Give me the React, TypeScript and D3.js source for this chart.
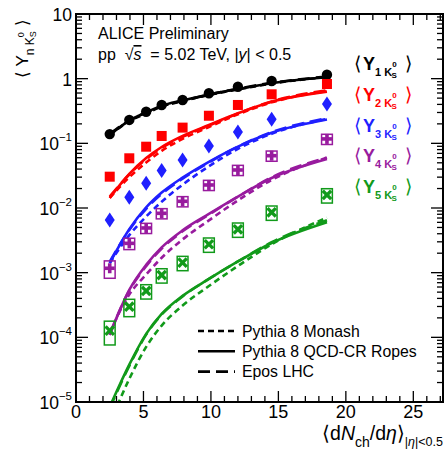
import React from "react";
import * as d3 from "d3";

// <dN_ch/deta> of the multiplicity classes
const multiplicity = [2.5, 3.95, 5.2, 6.35, 7.9, 9.85, 12.0, 14.5, 18.6];

// measured <Y_nK0S>
const dataY1 = [0.139, 0.23, 0.308, 0.392, 0.468, 0.594, 0.751, 0.92, 1.15];
const dataY2 = [0.0305, 0.0587, 0.0887, 0.13, 0.175, 0.267, 0.392, 0.573, 0.827];
const dataY3 = [0.00653, 0.0147, 0.0241, 0.038, 0.0552, 0.091, 0.15, 0.236, 0.406];
const dataY4 = [0.00117, 0.00284, 0.00491, 0.00828, 0.0127, 0.0227, 0.0387, 0.0644, 0.117];
const dataY5 = [0.000127, 0.000298, 0.000521, 0.00092, 0.00143, 0.00275, 0.00469, 0.00859, 0.0159];

// relative systematic uncertainties (boxes)
const sysY4 = [0.3, 0.2, 0.18, 0.18, 0.18, 0.18, 0.18, 0.18, 0.18];
const sysY5 = [0.4, 0.3, 0.25, 0.25, 0.25, 0.25, 0.25, 0.25, 0.25];

// Pythia 8 QCD-CR Ropes
const ropesY1 = [0.135, 0.225, 0.3, 0.38, 0.46, 0.57, 0.69, 0.85, 1.05];
const ropesY2 = [0.0143, 0.0336, 0.0593, 0.0877, 0.13, 0.192, 0.291, 0.44, 0.63];
const ropesY3 = [0.00141, 0.00469, 0.0102, 0.0173, 0.0295, 0.0518, 0.0891, 0.1455, 0.233];
const ropesY4 = [0.000109, 0.000541, 0.00132, 0.00246, 0.00451, 0.00809, 0.015, 0.0291, 0.0574];
const ropesY5 = [0.0000084, 0.0000378, 0.000113, 0.00023, 0.000438, 0.0008, 0.00149, 0.00288, 0.00603];

// Pythia 8 Monash
const monashY1 = [0.135, 0.22, 0.29, 0.37, 0.45, 0.56, 0.68, 0.84, 1.06];
const monashY2 = [0.0143, 0.0299, 0.0505, 0.0764, 0.117, 0.179, 0.281, 0.43, 0.644];
const monashY3 = [0.00141, 0.00381, 0.00738, 0.0125, 0.0229, 0.0441, 0.0822, 0.1406, 0.239];
const monashY4 = [0.000119, 0.00046, 0.000935, 0.0017, 0.00327, 0.00643, 0.0131, 0.0272, 0.0601];
const monashY5 = [0.0000046, 0.0000228, 0.0000711, 0.000152, 0.00031, 0.000622, 0.00127, 0.00275, 0.00708];

// Epos LHC
const eposY1 = [0.14, 0.225, 0.3, 0.375, 0.455, 0.565, 0.7, 0.86, 1.08];
const eposY2 = [0.015, 0.033, 0.057, 0.085, 0.126, 0.188, 0.29, 0.445, 0.66];
const eposY3 = [0.00148, 0.00458, 0.00973, 0.0165, 0.0285, 0.0506, 0.0891, 0.149, 0.244];
const eposY4 = [0.000114, 0.000528, 0.00126, 0.00235, 0.00436, 0.00791, 0.015, 0.0298, 0.0601];
const eposY5 = [0.000008, 0.0000361, 0.00011, 0.000225, 0.000428, 0.0008, 0.00149, 0.00295, 0.00646];

const xTicks = [0, 5, 10, 15, 20, 25];
const yTickExp = [1, 0, -1, -2, -3, -4, -5];
const legendModels = ["Pythia 8 Monash", "Pythia 8 QCD-CR Ropes", "Epos LHC"];

const W = 445;
const H = 459;
const left = 76, right = 443, top = 14, bottom = 402;
const font = "'Liberation Sans', Arial, Helvetica, sans-serif";

const series = [
  { n: 1, color: "#000000", marker: "circle", data: dataY1, sys: null, ropes: ropesY1, monash: monashY1, epos: eposY1 },
  { n: 2, color: "#ff0000", marker: "square", data: dataY2, sys: null, ropes: ropesY2, monash: monashY2, epos: eposY2 },
  { n: 3, color: "#1f1fff", marker: "diamond", data: dataY3, sys: null, ropes: ropesY3, monash: monashY3, epos: eposY3 },
  { n: 4, color: "#981b9e", marker: "plus", data: dataY4, sys: sysY4, ropes: ropesY4, monash: monashY4, epos: eposY4 },
  { n: 5, color: "#119a1a", marker: "cross", data: dataY5, sys: sysY5, ropes: ropesY5, monash: monashY5, epos: eposY5 },
];

const styles = [
  { key: "monash", dash: "6,4" },
  { key: "ropes", dash: null },
  { key: "epos", dash: "12,6" },
];

function Marker({ type, x, y, color }: { type: string; x: number; y: number; color: string }) {
  if (type === "circle") return <circle cx={x} cy={y} r={5.2} fill={color} />;
  if (type === "square") return <rect x={x - 5} y={y - 5} width={10} height={10} fill={color} />;
  if (type === "diamond")
    return <path d={`M${x},${y - 7.5}L${x + 5},${y}L${x},${y + 7.5}L${x - 5},${y}Z`} fill={color} />;
  if (type === "plus")
    return (
      <g fill={color}>
        <rect x={x - 5} y={y - 1.8} width={10} height={3.6} />
        <rect x={x - 1.8} y={y - 5} width={3.6} height={10} />
      </g>
    );
  return (
    <g stroke={color} strokeWidth={3.3} strokeLinecap="butt">
      <line x1={x - 4.2} y1={y - 4.2} x2={x + 4.2} y2={y + 4.2} />
      <line x1={x - 4.2} y1={y + 4.2} x2={x + 4.2} y2={y - 4.2} />
    </g>
  );
}

export default function App() {
  const x = d3.scaleLinear().domain([0, 27.2]).range([left, right]);
  const y = d3.scaleLog().domain([1e-5, 10]).range([bottom, top]);

  const line = d3
    .line<number>()
    .x((_, i) => x(multiplicity[i]))
    .y((d) => y(d))
    .curve(d3.curveMonotoneX);

  const xMinor = d3.range(0, 28, 1);
  const yMinor: number[] = [];
  for (let e = -5; e < 1; e++) for (let m = 2; m <= 9; m++) yMinor.push(m * Math.pow(10, e));

  return (
    <svg width={W} height={H} style={{ position: "absolute", left: 0, top: 0, background: "#fff" }} fontFamily={font}>
      <defs>
        <clipPath id="frame">
          <rect x={left} y={top} width={right - left} height={bottom - top} />
        </clipPath>
      </defs>

      {/* model curves */}
      <g clipPath="url(#frame)" fill="none" strokeWidth={2.6}>
        {series.map((s) =>
          styles.map((st) => (
            <path
              key={s.n + st.key}
              d={line((s as any)[st.key]) || ""}
              stroke={s.color}
              strokeDasharray={st.dash || undefined}
            />
          ))
        )}
      </g>

      {/* data points */}
      {series.map((s) => (
        <g key={"d" + s.n}>
          {s.data.map((v, i) => {
            const cx = x(multiplicity[i]);
            const cy = y(v);
            return (
              <g key={i}>
                {s.sys && (
                  <rect
                    x={x(multiplicity[i] - 0.4)}
                    y={y(v * (1 + s.sys[i]))}
                    width={x(multiplicity[i] + 0.4) - x(multiplicity[i] - 0.4)}
                    height={y(v * (1 - s.sys[i])) - y(v * (1 + s.sys[i]))}
                    fill="none"
                    stroke={s.color}
                    strokeWidth={1.5}
                  />
                )}
                <Marker type={s.marker} x={cx} y={cy} color={s.color} />
              </g>
            );
          })}
        </g>
      ))}

      {/* frame and ticks */}
      <rect x={left} y={top} width={right - left} height={bottom - top} fill="none" stroke="#000" strokeWidth={2} />
      <g stroke="#000" strokeWidth={1.3}>
        {xMinor.map((t) => {
          const len = t % 5 === 0 ? 11 : 6;
          return (
            <g key={"xt" + t}>
              <line x1={x(t)} x2={x(t)} y1={bottom} y2={bottom - len} />
              <line x1={x(t)} x2={x(t)} y1={top} y2={top + len} />
            </g>
          );
        })}
        {yTickExp.map((e) => (
          <g key={"yt" + e}>
            <line x1={left} x2={left + 12} y1={y(Math.pow(10, e))} y2={y(Math.pow(10, e))} />
            <line x1={right} x2={right - 12} y1={y(Math.pow(10, e))} y2={y(Math.pow(10, e))} />
          </g>
        ))}
        {yMinor.map((t, i) => (
          <g key={"ym" + i}>
            <line x1={left} x2={left + 6} y1={y(t)} y2={y(t)} />
            <line x1={right} x2={right - 6} y1={y(t)} y2={y(t)} />
          </g>
        ))}
      </g>

      {/* tick labels */}
      {xTicks.map((t) => (
        <text key={"xl" + t} x={x(t)} y={418} textAnchor="middle" fontSize={18}>
          {t}
        </text>
      ))}
      {yTickExp.map((e) => (
        <text key={"yl" + e} x={72} y={y(Math.pow(10, e)) + 7} textAnchor="end" fontSize={17.5}>
          {e === 0 ? "1" : "10"}
          {e < 0 && (
            <tspan fontSize={11.5} dy={-9}>
              {"\u2212" + -e}
            </tspan>
          )}
        </text>
      ))}

      {/* axis titles */}
      <text transform="translate(28,78) rotate(-90)" fontSize={17}>
        <tspan>⟨ Y</tspan>
        <tspan fontSize={12} dy={6}>n K</tspan>
        <tspan fontSize={9} dy={-10}>0</tspan>
        <tspan fontSize={9} dx={-5} dy={12}>S</tspan>
        <tspan fontSize={17} dy={-8}> ⟩</tspan>
      </text>
      <text x={443} y={440} textAnchor="end" fontSize={19.5}>
        <tspan>⟨d</tspan>
        <tspan fontStyle="italic">N</tspan>
        <tspan fontSize={14} dy={7}>ch</tspan>
        <tspan dy={-7}>/d</tspan>
        <tspan fontStyle="italic">η</tspan>
        <tspan>⟩</tspan>
        <tspan fontSize={12.5} dy={6}>
          |<tspan fontStyle="italic">η</tspan>|&lt;0.5
        </tspan>
      </text>

      {/* header */}
      <text x={98} y={39} fontSize={16}>ALICE Preliminary</text>
      <text x={98} y={60} fontSize={16} style={{ whiteSpace: "pre" }}>
        {"pp  √"}<tspan fontStyle="italic" textDecoration="overline">s</tspan>{"  = 5.02 TeV, |"}<tspan fontStyle="italic">y</tspan>{"| < 0.5"}
      </text>

      {/* species legend */}
      {series.map((s, i) => {
        const by = 70 + i * 30.8;
        return (
          <g key={"lg" + s.n} fill={s.color}>
            <text x={354} y={by} fontSize={19}>⟨</text>
            <text x={363} y={by} fontSize={18} fontWeight="bold">
              Y
              <tspan fontSize={11} dy={6}>{s.n} K</tspan>
              <tspan fontSize={8} dy={-9}>0</tspan>
              <tspan fontSize={8} dx={-5} dy={11}>S</tspan>
            </text>
            <text x={405} y={by} fontSize={19}>⟩</text>
          </g>
        );
      })}

      {/* model legend */}
      {legendModels.map((m, i) => {
        const ly = 331 + i * 20.3;
        return (
          <g key={m}>
            <line x1={198} x2={235} y1={ly} y2={ly} stroke="#000" strokeWidth={2.6} strokeDasharray={styles[i].dash || undefined} />
            <text x={242} y={ly + 5.5} fontSize={15.8}>{m}</text>
          </g>
        );
      })}
    </svg>
  );
}
